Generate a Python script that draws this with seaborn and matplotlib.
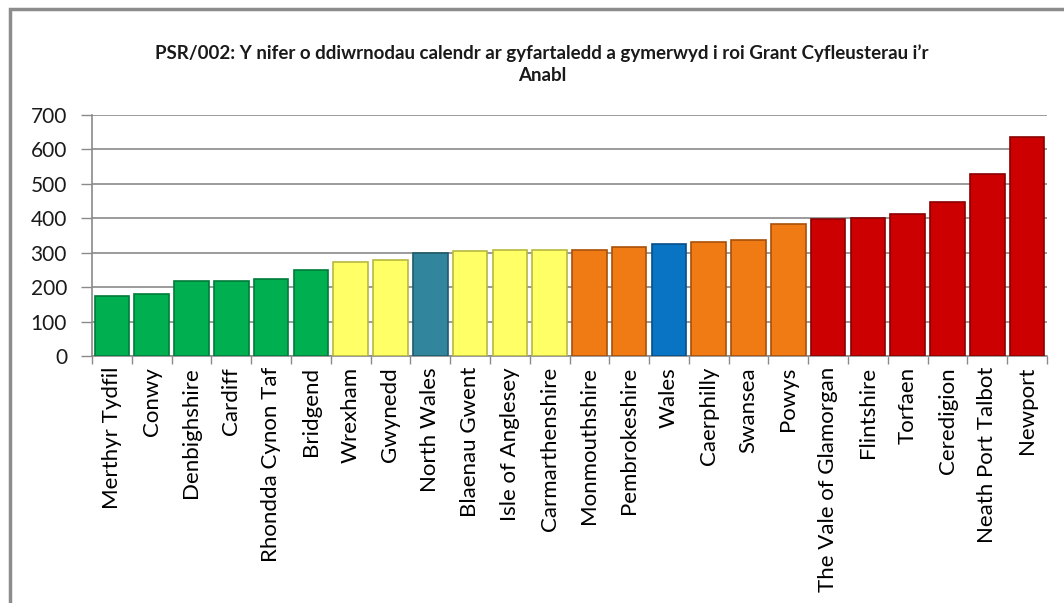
import matplotlib
matplotlib.use("Agg")
import matplotlib.pyplot as plt
import seaborn as sns
import pandas as pd
from matplotlib.patches import Rectangle
from matplotlib.ticker import FixedLocator

categories = ["Merthyr Tydfil", "Conwy", "Denbighshire", "Cardiff", "Rhondda Cynon Taf",
              "Bridgend", "Wrexham", "Gwynedd", "North Wales", "Blaenau Gwent",
              "Isle of Anglesey", "Carmarthenshire", "Monmouthshire", "Pembrokeshire",
              "Wales", "Caerphilly", "Swansea", "Powys", "The Vale of Glamorgan",
              "Flintshire", "Torfaen", "Ceredigion", "Neath Port Talbot", "Newport"]
values = [174, 179, 218, 219, 223, 249, 272, 279, 298, 305, 308, 308, 308, 316,
          325, 331, 338, 384, 397, 402, 413, 447, 529, 637]
groups = ["green"] * 6 + ["yellow"] * 2 + ["teal"] + ["yellow"] * 3 + ["orange"] * 2 + \
         ["blue"] + ["orange"] * 3 + ["red"] * 6
group_colors = {"green": "#00B050", "yellow": "#FFFF66", "teal": "#31859C",
                "orange": "#F07A14", "blue": "#0A74C4", "red": "#CC0000"}
edge_colors = {"green": "#007A38", "yellow": "#B8B840", "teal": "#1F5A6A",
               "orange": "#A85008", "blue": "#064F88", "red": "#8A0000"}
title = "PSR/002: Y nifer o ddiwrnodau calendr ar gyfartaledd a gymerwyd i roi Grant Cyfleusterau i\u2019r\nAnabl"
yticks = [0, 100, 200, 300, 400, 500, 600, 700]

sns.set_theme(style="white")
plt.rcParams["font.family"] = ["Lato", "DejaVu Sans"]

df = pd.DataFrame({"area": categories, "value": values})
palette = [group_colors[g] for g in groups]

fig = plt.figure(figsize=(10.64, 6.03), dpi=100)
ax = fig.add_axes([92 / 1064, 1 - 356 / 603, (1047 - 92) / 1064, (356 - 115) / 603])

sns.barplot(data=df, x="area", y="value", hue="area", palette=palette,
            legend=False, width=0.87, ax=ax, saturation=1, zorder=3)
for patch, g in zip(ax.patches, groups):
    patch.set_edgecolor(edge_colors[g])
    patch.set_linewidth(1.2)

ax.set_ylim(0, 700)
ax.set_xlim(-0.5, len(categories) - 0.5)
ax.set_yticks(yticks)
ax.set_yticklabels([str(v) for v in yticks], fontsize=15, color="#1a1a1a")
ax.yaxis.grid(True, color="#8a8a8a", linewidth=1.2, zorder=0)
ax.set_axisbelow(True)
ax.set_xlabel("")
ax.set_ylabel("")
ax.set_xticks(range(len(categories)))
ax.set_xticklabels(categories, rotation=90, fontsize=16, color="#000000")
ax.xaxis.set_minor_locator(FixedLocator([i - 0.5 for i in range(len(categories) + 1)]))
ax.tick_params(axis="x", which="major", length=0, pad=8)
ax.tick_params(axis="x", which="minor", length=6, color="#8a8a8a", width=1, direction="out", bottom=True)
ax.tick_params(axis="y", which="major", length=8, color="#8a8a8a", width=1, direction="out", left=True, pad=10)
for s in ["top", "right"]:
    ax.spines[s].set_visible(False)
for s in ["left", "bottom"]:
    ax.spines[s].set_color("#8a8a8a")
    ax.spines[s].set_linewidth(1.2)

fig.text(542 / 1064, 1 - 44 / 603, title, ha="center", va="top", fontsize=13.5,
         fontweight="bold", color="#1a1a1a", linespacing=1.35,
         transform=fig.transFigure)

frame = Rectangle((9.5 / 1064, -0.05), 1.1, 1 - 9.5 / 603 + 0.05, transform=fig.transFigure,
                  fill=False, edgecolor="#8c8c8c", linewidth=2.5, clip_on=False)
fig.patches.append(frame)

fig.savefig("out.png", dpi=100)
